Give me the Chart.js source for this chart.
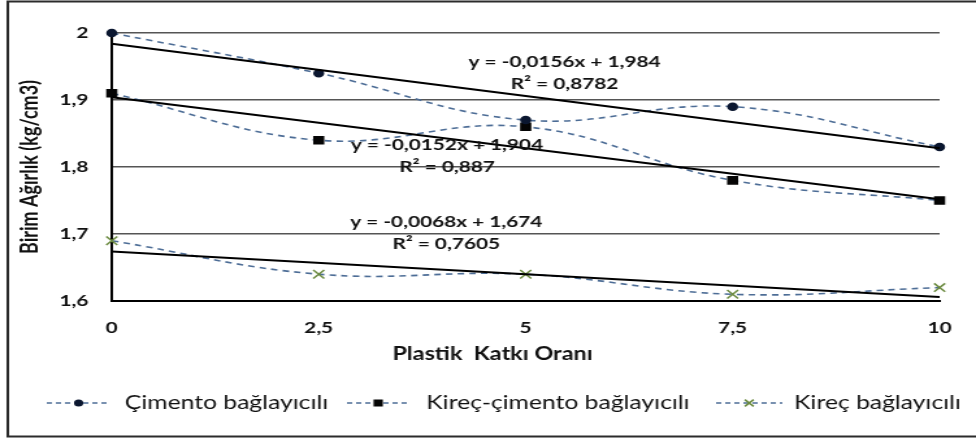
<!DOCTYPE html>
<html lang="tr">
<head>
<meta charset="UTF-8">
<title>Birim Ağırlık - Plastik Katkı Oranı</title>
<script src="https://cdn.jsdelivr.net/npm/chart.js"></script>
<style>
  html, body { margin: 0; padding: 0; background: #fff; }
  #chart { display: block; width: 976px !important; height: 441px !important; }
</style>
</head>
<body>
<canvas id="chart" width="751" height="441" style="width:976px;height:441px"></canvas>
<script>
// x values (Plastik Katkı Oranı) and tick labels
const xValues = [0, 2.5, 5, 7.5, 10];
const xTickLabels = ['0', '2,5', '5', '7,5', '10'];
const yTickValues = [1.6, 1.7, 1.8, 1.9, 2.0];
const yTickLabels = ['1,6', '1,7', '1,8', '1,9', '2'];

// series
const seriesNames = ['Çimento bağlayıcılı', 'Kireç-çimento bağlayıcılı', 'Kireç bağlayıcılı'];
const cimento = [2.00, 1.94, 1.87, 1.89, 1.83];
const kirecCimento = [1.91, 1.84, 1.86, 1.78, 1.75];
const kirec = [1.69, 1.64, 1.64, 1.61, 1.62];

// linear trend lines, value at x = 0 and x = 10
const trendX = [0, 10];
const trendCimento = [1.984, 1.828];
const trendKirecCimento = [1.904, 1.752];
const trendKirec = [1.674, 1.606];

const eqLabels = ['y = -0,0156x + 1,984', 'y = -0,0152x + 1,904', 'y = -0,0068x + 1,674'];
const r2Labels = ['R² = 0,8782', 'R² = 0,887', 'R² = 0,7605'];

const pts = (xs, ys) => xs.map((x, i) => ({ x: x, y: ys[i] }));
const dashColor = '#4d6d96';

function series(label, data, style, radius, color) {
  return {
    label: label, data: pts(xValues, data),
    borderColor: dashColor, borderWidth: 1.6, borderDash: [5, 4],
    tension: 0.4, clip: false,
    pointStyle: style, pointRadius: radius,
    pointBackgroundColor: color, pointBorderColor: color, pointBorderWidth: 1.5,
    order: 2
  };
}
function trend(data) {
  return {
    label: '', data: pts(trendX, data), borderColor: '#000', borderWidth: 2,
    pointRadius: 0, clip: false, order: 1
  };
}

const datasets = [
  series(seriesNames[0], cimento, 'circle', 3.5, '#0b1730'),
  series(seriesNames[1], kirecCimento, 'rect', 5, '#050505'),
  series(seriesNames[2], kirec, 'crossRot', 6, '#6b8a3f'),
  trend(trendCimento), trend(trendKirecCimento), trend(trendKirec)
];

// where the equation labels sit, in data units
const eqAnchors = [[5.47, 1.957, 1.924], [4.05, 1.833, 1.800], [4.04, 1.718, 1.685]];

const extras = {
  id: 'extras',
  beforeDraw(chart) {
    const ctx = chart.ctx;
    ctx.save();
    ctx.strokeStyle = '#2b2b2b';
    ctx.lineWidth = 2;
    ctx.strokeRect(6, 1.5, 800, 435);
    ctx.restore();
  },
  afterDraw(chart) {
    const ctx = chart.ctx;
    const xs = chart.scales.x, ys = chart.scales.y;
    ctx.save();
    ctx.fillStyle = '#111';
    ctx.textAlign = 'center';
    ctx.textBaseline = 'middle';
    ctx.font = 'bold 16px Lato';
    eqAnchors.forEach((a, i) => {
      const px = xs.getPixelForValue(a[0]);
      ctx.fillText(eqLabels[i], px, ys.getPixelForValue(a[1]));
      ctx.fillText(r2Labels[i], px, ys.getPixelForValue(a[2]));
    });

    // x axis title, centered on the whole chart like the original
    ctx.font = 'bold 18px Lato';
    ctx.fillText('Plastik  Katkı Oranı', 379, 354);

    // legend
    const items = [[36, 85, 96], [267, 315, 328], [551, 602, 611]];
    ctx.font = '19px Lato';
    ctx.textAlign = 'left';
    items.forEach((it, i) => {
      const ds = chart.data.datasets[i];
      const y = 403;
      ctx.save();
      ctx.strokeStyle = dashColor;
      ctx.lineWidth = 1.6;
      ctx.setLineDash([4, 3]);
      ctx.beginPath();
      ctx.moveTo(it[0], y);
      ctx.lineTo(it[1], y);
      ctx.stroke();
      ctx.setLineDash([]);
      ctx.fillStyle = ds.pointBackgroundColor;
      ctx.strokeStyle = ds.pointBorderColor;
      ctx.lineWidth = 1.5;
      Chart.helpers.drawPoint(ctx, {
        pointStyle: ds.pointStyle, radius: ds.pointRadius * 0.8, rotation: 0, borderWidth: 1.5
      }, (it[0] + it[1]) / 2, y);
      ctx.restore();
      ctx.fillStyle = '#111';
      ctx.fillText(seriesNames[i], it[2], y);
    });
    ctx.restore();
  }
};

new Chart(document.getElementById('chart'), {
  type: 'line',
  data: { datasets: datasets },
  plugins: [extras],
  options: {
    responsive: false,
    maintainAspectRatio: false,
    animation: false,
    layout: { padding: { left: 0, right: 28, top: 33, bottom: 0 } },
    plugins: { legend: { display: false }, tooltip: { enabled: false } },
    scales: {
      x: {
        type: 'linear', min: 0, max: 10,
        afterBuildTicks: axis => { axis.ticks = xValues.map(v => ({ value: v })); },
        afterFit: axis => { axis.height = 140; },
        grid: { display: false, drawTicks: false },
        border: { display: true, color: '#000', width: 2 },
        ticks: {
          padding: 17, color: '#111', font: { family: 'Lato', size: 16, weight: 'bold' },
          callback: (v, i) => xTickLabels[i]
        }
      },
      y: {
        min: 1.6, max: 2.0,
        afterBuildTicks: axis => { axis.ticks = yTickValues.map(v => ({ value: v })); },
        afterFit: axis => { axis.width = 86; },
        grid: { color: '#555', lineWidth: 1.4, drawTicks: false },
        border: { display: true, color: '#000', width: 2 },
        ticks: {
          padding: 18, color: '#111', font: { family: 'Lato', size: 16, weight: 'bold' },
          callback: (v, i) => yTickLabels[i]
        },
        title: {
          display: true, text: 'Birim Ağırlık (kg/cm3)', color: '#111',
          font: { family: 'Lato', size: 18, weight: 'bold' }, padding: { top: 12, bottom: 0 }
        }
      }
    }
  }
});
</script>
</body>
</html>
